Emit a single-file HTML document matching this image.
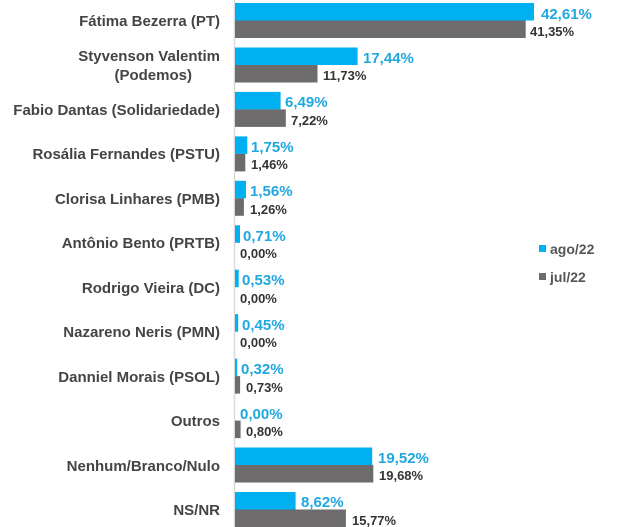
<!DOCTYPE html>
<html><head><meta charset="utf-8"><style>
body{margin:0;background:#fff}
svg{display:block}
.l{font:bold 15px "Liberation Sans",sans-serif;fill:#444;text-anchor:end}
.b{font:bold 15px "Liberation Sans",sans-serif;fill:#1ea7e1}
.g{font:bold 13px "Liberation Sans",sans-serif;fill:#333}
</style></head><body>
<svg width="623" height="527" viewBox="0 0 623 527">
<line x1="234.5" y1="0" x2="234.5" y2="527" stroke="#d9d9d9" stroke-width="1.5"/>
<g fill="#00b0f0">
<rect x="235" y="3" width="299" height="17.5"/>
<rect x="235" y="47.5" width="122.6" height="17.5"/>
<rect x="235" y="91.9" width="45.6" height="17.5"/>
<rect x="235" y="136.4" width="12.3" height="17.5"/>
<rect x="235" y="180.8" width="11" height="17.5"/>
<rect x="235" y="225.3" width="5" height="17.5"/>
<rect x="235" y="269.7" width="3.7" height="17.5"/>
<rect x="235" y="314.2" width="3.2" height="17.5"/>
<rect x="235" y="358.6" width="2.2" height="17.5"/>
<rect x="235" y="447.5" width="137.2" height="17.5"/>
<rect x="235" y="492" width="60.6" height="17.5"/>
</g>
<g fill="#6d6b6b">
<rect x="235" y="20.5" width="290.7" height="17.5"/>
<rect x="235" y="65" width="82.5" height="17.5"/>
<rect x="235" y="109.4" width="50.8" height="17.5"/>
<rect x="235" y="153.9" width="10.3" height="17.5"/>
<rect x="235" y="198.3" width="8.9" height="17.5"/>
<rect x="235" y="376.1" width="5.1" height="17.5"/>
<rect x="235" y="420.6" width="5.6" height="17.5"/>
<rect x="235" y="465" width="138.3" height="17.5"/>
<rect x="235" y="509.5" width="110.9" height="17.5"/>
</g>
<text class="l" x="220" y="26">Fátima Bezerra (PT)</text>
<text class="l" x="220" y="61">Styvenson Valentim</text>
<text class="l" x="192" y="80">(Podemos)</text>
<text class="l" x="220" y="115">Fabio Dantas (Solidariedade)</text>
<text class="l" x="220" y="159">Rosália Fernandes (PSTU)</text>
<text class="l" x="220" y="204">Clorisa Linhares (PMB)</text>
<text class="l" x="220" y="248">Antônio Bento (PRTB)</text>
<text class="l" x="220" y="293">Rodrigo Vieira (DC)</text>
<text class="l" x="220" y="337">Nazareno Neris (PMN)</text>
<text class="l" x="220" y="382">Danniel Morais (PSOL)</text>
<text class="l" x="220" y="426">Outros</text>
<text class="l" x="220" y="471">Nenhum/Branco/Nulo</text>
<text class="l" x="220" y="515">NS/NR</text>
<text class="b" x="541" y="19">42,61%</text>
<text class="g" x="530" y="36">41,35%</text>
<text class="b" x="363" y="63">17,44%</text>
<text class="g" x="323" y="80">11,73%</text>
<text class="b" x="285" y="107">6,49%</text>
<text class="g" x="291" y="125">7,22%</text>
<text class="b" x="251" y="152">1,75%</text>
<text class="g" x="251" y="169">1,46%</text>
<text class="b" x="250" y="196">1,56%</text>
<text class="g" x="250" y="214">1,26%</text>
<text class="b" x="243" y="241">0,71%</text>
<text class="g" x="240" y="258">0,00%</text>
<text class="b" x="242" y="285">0,53%</text>
<text class="g" x="240" y="303">0,00%</text>
<text class="b" x="242" y="330">0,45%</text>
<text class="g" x="240" y="347">0,00%</text>
<text class="b" x="241" y="374">0,32%</text>
<text class="g" x="246" y="392">0,73%</text>
<text class="b" x="240" y="419">0,00%</text>
<text class="g" x="246" y="436">0,80%</text>
<text class="b" x="378" y="463">19,52%</text>
<text class="g" x="379" y="480">19,68%</text>
<text class="b" x="301" y="507">8,62%</text>
<text class="g" x="352" y="525">15,77%</text>
<rect x="539" y="245" width="7" height="7" fill="#00b0f0"/>
<text class="g" x="550" y="254" style="fill:#555;font-size:14px">ago/22</text>
<rect x="539" y="273" width="7" height="7" fill="#6d6b6b"/>
<text class="g" x="550" y="282" style="fill:#555;font-size:14px">jul/22</text>
</svg>
</body></html>
